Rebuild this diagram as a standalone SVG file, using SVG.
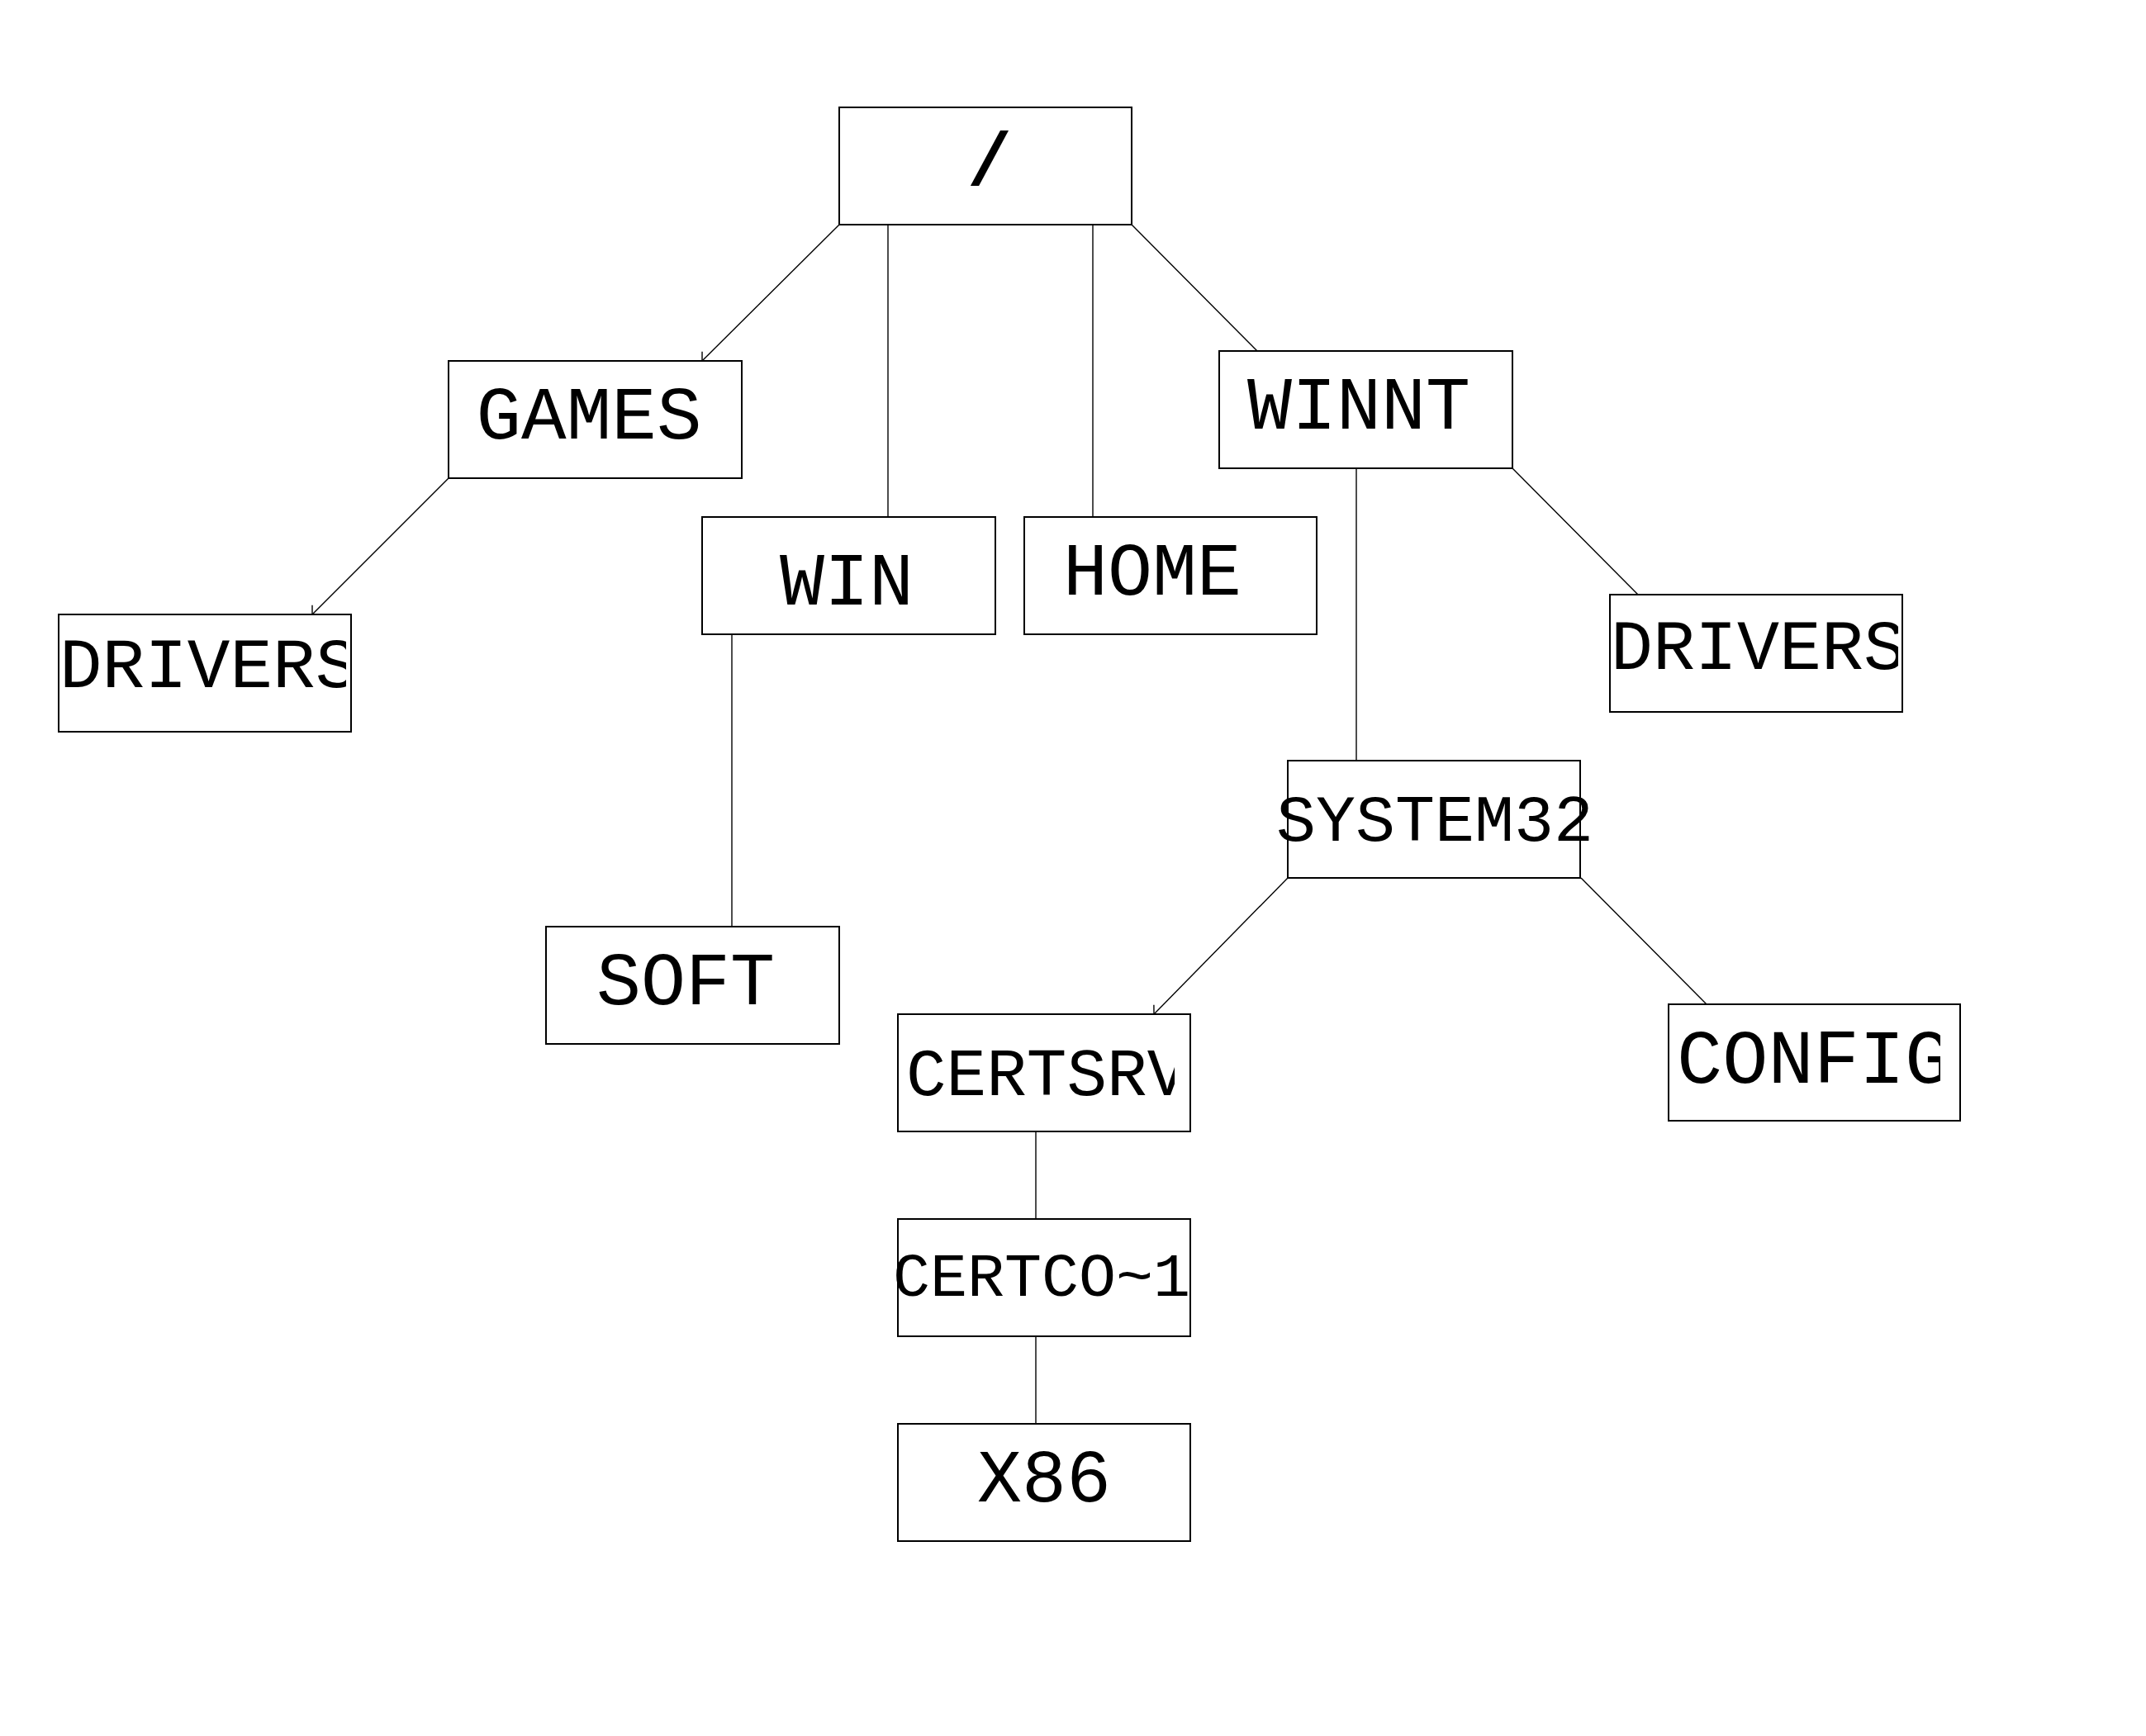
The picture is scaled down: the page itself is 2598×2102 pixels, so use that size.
<svg xmlns="http://www.w3.org/2000/svg" width="2598" height="2102" viewBox="0 0 2598 2102">
<style>
.box{fill:#fff;stroke:#000;stroke-width:2}
.lbl{font-family:"Courier New","Liberation Mono",monospace;fill:#000}
.c{text-anchor:middle}
.s{text-anchor:start}
#connectors line{stroke:#000;stroke-width:1.4;fill:none}
</style>
<defs>
<marker id="arr" markerUnits="userSpaceOnUse" markerWidth="20" markerHeight="20" refX="0" refY="0" viewBox="-10 -10 20 20" orient="auto" overflow="visible">
<path d="M -8 -8 L 0 0 L -8 8" fill="none" stroke="#000" stroke-width="1.4"/>
</marker>
<clipPath id="clipDL"><rect x="60" y="740" width="359" height="150"/></clipPath>
<clipPath id="clipDR"><rect x="1940" y="716" width="358" height="150"/></clipPath>
<clipPath id="clipCS"><rect x="1080" y="1224" width="342" height="150"/></clipPath>
<clipPath id="clipCF"><rect x="2010" y="1212" width="339" height="150"/></clipPath>
</defs>
<rect width="2598" height="2102" fill="#fff"/>
<g id="connectors">
<line x1="1016" y1="272" x2="850" y2="437" marker-end="url(#arr)"/>
<line x1="1075" y1="272" x2="1075" y2="626"/>
<line x1="1323" y1="272" x2="1323" y2="626"/>
<line x1="1370" y1="272" x2="1522" y2="425"/>
<line x1="543" y1="579" x2="378" y2="744" marker-end="url(#arr)"/>
<line x1="886" y1="768" x2="886" y2="1122"/>
<line x1="1642" y1="567" x2="1642" y2="921"/>
<line x1="1831" y1="567" x2="1983" y2="720"/>
<line x1="1559" y1="1063" x2="1397" y2="1228" marker-end="url(#arr)"/>
<line x1="1914" y1="1063" x2="2066" y2="1216"/>
<line x1="1254" y1="1370" x2="1254" y2="1476"/>
<line x1="1254" y1="1618" x2="1254" y2="1724"/>
</g>
<g id="root"><rect class="box" x="1016" y="130" width="354" height="142"/><text class="lbl c" x="1198" y="224" font-size="90" font-weight="bold">/</text></g>
<g id="games"><rect class="box" x="543" y="437" width="355" height="142"/><text class="lbl c" x="713" y="531" font-size="91">GAMES</text></g>
<g id="drivers-left"><rect class="box" x="71" y="744" width="354" height="142"/><text class="lbl s" x="72" y="832" font-size="86" clip-path="url(#clipDL)">DRIVERS</text></g>
<g id="win"><rect class="box" x="850" y="626" width="355" height="142"/><text class="lbl c" x="1025" y="732" font-size="90">WIN</text></g>
<g id="home"><rect class="box" x="1240" y="626" width="354" height="142"/><text class="lbl c" x="1395" y="720" font-size="90">HOME</text></g>
<g id="winnt"><rect class="box" x="1476" y="425" width="355" height="142"/><text class="lbl c" x="1645" y="519" font-size="90">WINNT</text></g>
<g id="drivers-right"><rect class="box" x="1949" y="720" width="354" height="142"/><text class="lbl s" x="1950" y="810" font-size="85" clip-path="url(#clipDR)">DRIVERS</text></g>
<g id="system32"><rect class="box" x="1559" y="921" width="354" height="142"/><text class="lbl c" x="1737" y="1018" font-size="80">SYSTEM32</text></g>
<g id="soft"><rect class="box" x="661" y="1122" width="355" height="142"/><text class="lbl c" x="830" y="1216" font-size="90">SOFT</text></g>
<g id="certsrv"><rect class="box" x="1087" y="1228" width="354" height="142"/><text class="lbl s" x="1097" y="1326" font-size="81" clip-path="url(#clipCS)">CERTSRV</text></g>
<g id="config"><rect class="box" x="2020" y="1216" width="353" height="141"/><text class="lbl s" x="2030" y="1311" font-size="92" clip-path="url(#clipCF)">CONFIG</text></g>
<g id="certco1"><rect class="box" x="1087" y="1476" width="354" height="142"/><text class="lbl c" x="1261" y="1569" font-size="75">CERTCO~1</text></g>
<g id="x86"><rect class="box" x="1087" y="1724" width="354" height="142"/><text class="lbl c" x="1264" y="1818" font-size="90">X86</text></g>
</svg>
